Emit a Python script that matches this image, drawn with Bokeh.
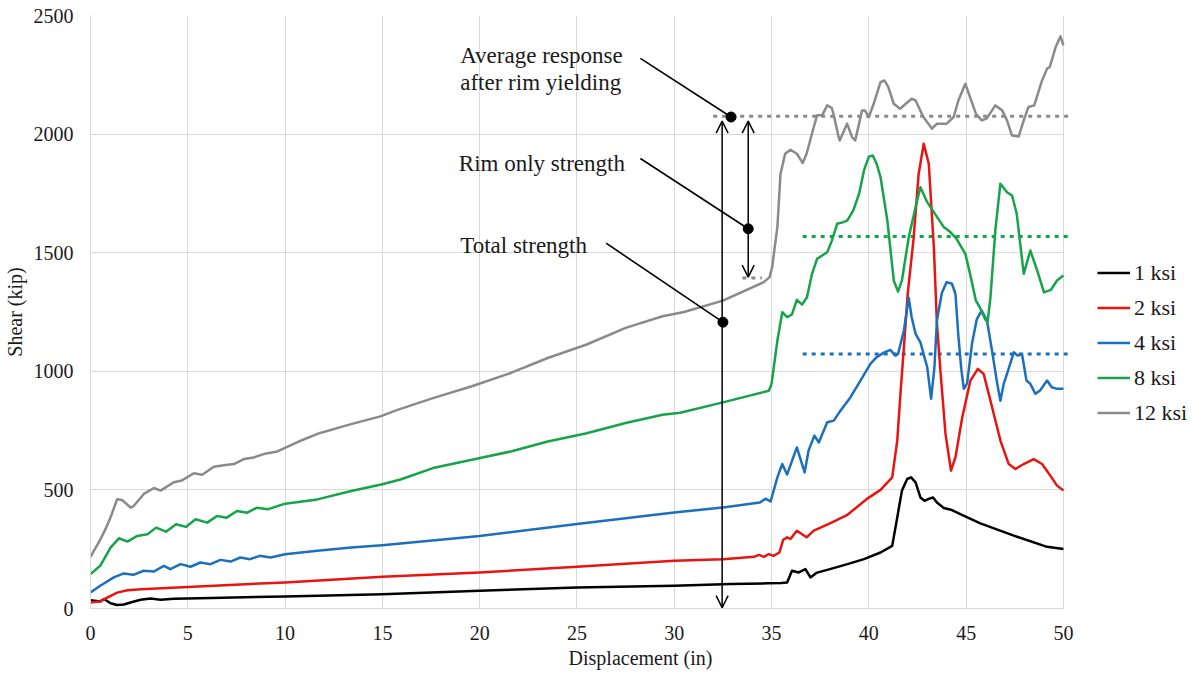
from bokeh.plotting import figure
from bokeh.models import Range1d, Legend, LegendItem, Arrow, OpenHead, FixedTicker, BoxAnnotation
from bokeh.core.properties import value
from bokeh.embed import file_html
from bokeh.resources import INLINE

# ---------------- data ----------------
x_1ksi = [0, 0.5, 0.7, 1.03, 1.37, 1.71, 2.06, 2.57, 3.08, 3.6, 4.28, 5, 10, 15, 20, 25, 30, 32.9,
          34.8, 35.5, 35.8, 36.05, 36.4, 36.74, 37.0, 37.3, 38.0, 38.9, 39.75, 40.6, 41.2, 41.46,
          41.7, 41.97, 42.17, 42.4, 42.65, 42.86, 43.08, 43.3, 43.5, 43.85, 44.27, 44.7, 45.73,
          47.45, 49.16, 50]
y_1ksi = [35, 30, 40, 22, 15, 17, 25, 37, 42, 37, 41, 42, 51, 60, 75, 89, 96, 103,
          106, 108, 110, 159, 152, 166, 131, 150, 166, 187, 208, 236, 264, 384,
          497, 546, 553, 532, 468, 454, 462, 468, 447, 424, 415, 398, 359,
          307, 260, 251]

x_2ksi = [0, 0.5, 0.86, 1.37, 1.9, 2.6, 5, 10, 15, 20, 25, 30, 32.5, 34.1, 34.35, 34.6, 34.86,
          35.1, 35.4, 35.6, 35.8, 35.97, 36.3, 36.8, 37.17, 38.03, 38.9, 39.9, 40.6, 41.2, 41.46,
          41.62, 41.8, 42.0, 42.3, 42.56, 42.82, 43.08, 43.34, 43.5, 43.68, 43.94, 44.22, 44.45,
          44.8, 45.22, 45.6, 45.9, 46.25, 46.76, 47.19, 47.53, 47.96, 48.47, 48.9, 49.33, 49.67, 50]
y_2ksi = [25, 30, 46, 67, 77, 81, 91, 110, 134, 152, 176, 201, 208, 218, 226, 218, 229,
          222, 236, 290, 300, 293, 328, 300, 328, 360, 395, 462, 500, 553, 708,
          900, 1100, 1330, 1560, 1833, 1959, 1875, 1523, 1200, 1000, 736, 581, 637,
          806, 961, 1010, 989, 876, 708, 609, 588, 609, 630, 609, 560, 518, 497]

x_4ksi = [0, 0.5, 1.2, 1.71, 2.2, 2.74, 3.26, 3.77, 4.1, 4.63, 5.14, 5.65, 6.17, 6.68, 7.2, 7.7,
          8.2, 8.7, 9.25, 10, 11.66, 13.4, 15, 20, 25, 30, 32.5, 34.4, 34.7, 34.95, 35.3, 35.55,
          35.8, 36.3, 36.7, 36.9, 37.2, 37.43, 37.86, 38.2, 38.54, 39.05, 39.57, 40.08, 40.4, 40.8,
          41.1, 41.37, 41.5, 41.8, 42.05, 42.2, 42.4, 42.65, 43.0, 43.2, 43.37, 43.5, 43.75, 44.0,
          44.27, 44.45, 44.6, 44.75, 44.88, 45.05, 45.3, 45.55, 45.8, 46.07, 46.33, 46.6, 46.76,
          46.93, 47.1, 47.45, 47.65, 47.87, 48.1, 48.3, 48.56, 48.8, 49.16, 49.4, 49.67, 50]
y_4ksi = [68, 96, 131, 148, 142, 159, 156, 180, 166, 187, 176, 194, 187, 205, 198, 215,
          208, 222, 215, 229, 243, 257, 267, 306, 356, 405, 426, 447, 463, 451, 553, 609,
          565, 679, 574, 665, 729, 700, 785, 792, 834, 890, 961, 1031, 1060, 1080,
          1090, 1066, 1073, 1172, 1310, 1228, 1158, 1122, 1017, 884, 1017, 1214, 1330, 1376,
          1369, 1327, 1150, 1010, 926, 949, 1116, 1220, 1256, 1214, 1087, 947, 876,
          947, 989, 1080, 1066, 1073, 961, 947, 905, 919, 961, 933, 926, 926]

x_8ksi = [0, 0.5, 1.03, 1.46, 1.9, 2.4, 2.93, 3.37, 3.88, 4.4, 4.9, 5.4, 6.0, 6.5, 7.0, 7.53, 8.05,
          8.56, 9.1, 10, 11.66, 13.4, 15, 15.93, 17.6, 19.6, 21.6, 23.5, 25.5, 27.5, 29.4, 30.3,
          32.5, 34.86, 35.0, 35.3, 35.55, 35.8, 36.05, 36.3, 36.57, 36.82, 37.08, 37.34, 37.6,
          37.86, 38.1, 38.37, 38.7, 38.9, 39.2, 39.5, 39.75, 40.0, 40.2, 40.4, 40.6, 40.95, 41.28,
          41.5, 41.7, 42.05, 42.4, 42.65, 43.0, 43.34, 43.85, 44.2, 44.5, 44.96, 45.2, 45.5, 45.7,
          45.97, 46.1, 46.25, 46.5, 46.76, 47.1, 47.36, 47.6, 47.96, 48.3, 48.65, 49.0, 49.35,
          49.67, 50]
y_8ksi = [145, 180, 257, 296, 282, 306, 313, 341, 324, 355, 344, 376, 362, 390, 383, 411, 404,
          425, 418, 442, 460, 495, 524, 544, 592, 627, 662, 704, 739, 782, 817, 825,
          869, 918, 947, 1130, 1249, 1228, 1240, 1301, 1281, 1312, 1411, 1474, 1488,
          1502, 1551, 1622, 1629, 1636, 1678, 1749, 1847, 1905, 1910, 1875, 1819, 1636, 1383,
          1336, 1383, 1565, 1692, 1776, 1713, 1671, 1608, 1586, 1559, 1495, 1411, 1298, 1270,
          1221, 1207, 1312, 1594, 1791, 1755, 1741, 1664, 1411, 1509, 1425, 1333, 1343,
          1383, 1404]

x_12ksi = [0, 0.5, 0.8, 1.03, 1.37, 1.63, 2.06, 2.2, 2.74, 3.26, 3.6, 4.28, 4.7, 5.31, 5.74, 6.34,
           6.85, 7.37, 7.88, 8.4, 8.9, 9.6, 10.7, 11.76, 13.3, 14.9, 15.7, 17.6, 19.6, 21.6, 23.5,
           25.5, 27.5, 29.4, 30.5, 32.5, 34.6, 34.9, 35.03, 35.3, 35.46, 35.7, 35.97, 36.3, 36.6,
           36.8, 37.17, 37.34, 37.6, 37.86, 38.1, 38.2, 38.45, 38.5, 38.88, 39.14, 39.3, 39.65,
           39.8, 40.0, 40.25, 40.6, 40.8, 41.0, 41.28, 41.6, 42.2, 42.4, 42.8, 43.25, 43.5, 44.0,
           44.36, 44.6, 44.96, 45.2, 45.5, 45.8, 46.05, 46.5, 46.85, 47.1, 47.36, 47.7, 47.96,
           48.2, 48.5, 48.9, 49.16, 49.3, 49.6, 49.85, 50]
y_12ksi = [218, 290, 340, 384, 461, 457, 426, 430, 483, 508, 497, 532, 540, 570, 564, 598,
           604, 609, 630, 637, 651, 662, 704, 739, 775, 810, 835, 887, 937, 993, 1056,
           1113, 1183, 1232, 1250, 1298, 1376, 1397, 1439, 1608, 1833, 1917, 1934, 1917, 1878,
           1917, 2030, 2079, 2079, 2121, 2110, 2079, 1987, 1973, 2044, 1987, 1973, 2100,
           2100, 2072, 2128, 2219, 2226, 2198, 2128, 2107, 2149, 2142, 2072, 2023, 2044, 2044,
           2072, 2142, 2212, 2156, 2086, 2058, 2065, 2121, 2100, 2058, 1994, 1990, 2058,
           2114, 2121, 2226, 2276, 2283, 2367, 2412, 2374]

series_names = ["1 ksi", "2 ksi", "4 ksi", "8 ksi", "12 ksi"]
series_x = [x_1ksi, x_2ksi, x_4ksi, x_8ksi, x_12ksi]
series_y = [y_1ksi, y_2ksi, y_4ksi, y_8ksi, y_12ksi]
series_colors = ["#000000", "#e8140f", "#1b6fbd", "#16a34a", "#8a8a8a"]

# average levels (dotted)
level_y = [2075, 1393, 1568, 1073]
level_x0 = [32.0, 33.5, 36.6, 36.6]
level_x1 = [50.3, 34.5, 50.3, 50.3]
level_colors = ["#8a8a8a", "#8a8a8a", "#16a34a", "#1b6fbd"]

# annotations
ann_text = ["Average response", "after rim yielding", "Rim only strength", "Total strength"]
ann_x = [19.0, 19.0, 18.93, 19.0]
ann_y = [2332, 2219, 1875, 1530]

leader_x0 = [28.26, 28.26, 26.5]
leader_y0 = [2319, 1897, 1540]
leader_x1 = [32.92, 33.8, 32.5]
leader_y1 = [2072, 1601, 1207]

arrow_x = [32.46, 33.8]
arrow_y0 = [4, 1397]
arrow_y1 = [2055, 2055]

x_ticks = [0, 5, 10, 15, 20, 25, 30, 35, 40, 45, 50]
y_ticks = [0, 500, 1000, 1500, 2000, 2500]
X_MAX = 50
X_VIEW_END = 56.53   # frame extends to the right to hold the legend

FONT = "Liberation Serif"

# ---------------- figure ----------------
p = figure(width=1193, height=672, output_backend="svg", toolbar_location=None,
           x_range=Range1d(0, X_VIEW_END), y_range=Range1d(0, 2500),
           min_border_left=90, min_border_top=15, min_border_bottom=64, min_border_right=3)
p.outline_line_color = None
p.background_fill_color = "white"

for ax in (p.xaxis[0], p.yaxis[0]):
    ax.axis_line_color = "#d9d9d9"
    ax.axis_line_width = 1
    ax.major_tick_line_color = None
    ax.minor_tick_line_color = None
    ax.major_tick_out = 0
    ax.major_tick_in = 0
    ax.major_label_text_font = FONT
    ax.major_label_text_font_size = "20px"
    ax.major_label_text_color = "#1a1a1a"
    ax.axis_label_text_font = FONT
    ax.axis_label_text_font_size = "20px"
    ax.axis_label_text_font_style = "normal"
    ax.axis_label_text_color = "#1a1a1a"

p.xaxis.ticker = FixedTicker(ticks=x_ticks)
p.yaxis.ticker = FixedTicker(ticks=y_ticks)
p.xaxis.bounds = (0, X_MAX)
p.xaxis.axis_label = "Displacement (in)"
p.yaxis.axis_label = "Shear (kip)"
p.xaxis.major_label_standoff = 17
p.xaxis.axis_label_standoff = 4
p.yaxis.major_label_standoff = 17
p.yaxis.axis_label_standoff = 5

p.xgrid.ticker = FixedTicker(ticks=x_ticks)
p.ygrid.ticker = FixedTicker(ticks=y_ticks)
p.grid.grid_line_color = "#d9d9d9"
p.grid.grid_line_width = 1

# blank out the grid right of the plot area (legend area)
p.add_layout(BoxAnnotation(left=X_MAX + 0.04, fill_color="white", fill_alpha=1,
                           line_color=None, level="underlay"))

# dotted average levels
for y, x0, x1, c in zip(level_y, level_x0, level_x1, level_colors):
    p.line([x0, x1], [y, y], line_color=c, line_width=3, line_dash="4 5")

# series
items = []
for name, xs, ys, c in zip(series_names, series_x, series_y, series_colors):
    r = p.line(xs, ys, line_color=c, line_width=2.5, line_join="round")
    items.append(LegendItem(label=name, renderers=[r]))

# arrows
for ax_, y0, y1 in zip(arrow_x, arrow_y0, arrow_y1):
    p.add_layout(Arrow(start=OpenHead(size=12, line_width=1.5, line_color="black"),
                       end=OpenHead(size=12, line_width=1.5, line_color="black"),
                       x_start=ax_, y_start=y0, x_end=ax_, y_end=y1,
                       line_width=1.5, line_color="black"))

# leader lines and dots
p.segment(leader_x0, leader_y0, leader_x1, leader_y1, line_color="black", line_width=1.6)
p.scatter(leader_x1, leader_y1, size=10, color="black")

p.text(ann_x, ann_y, text=ann_text, text_font=value(FONT), text_font_size="23px",
       text_align="left", text_baseline="alphabetic", text_color="#1a1a1a")

legend = Legend(items=items, location=(1007, 178), orientation="vertical",
                glyph_width=33, glyph_height=35, label_height=35, spacing=0,
                padding=0, margin=0, label_standoff=4,
                border_line_color=None, background_fill_alpha=0,
                label_text_font=FONT, label_text_font_size="22px",
                label_text_color="#1a1a1a")
p.add_layout(legend)

open("out.html", "w").write(file_html(p, INLINE))
